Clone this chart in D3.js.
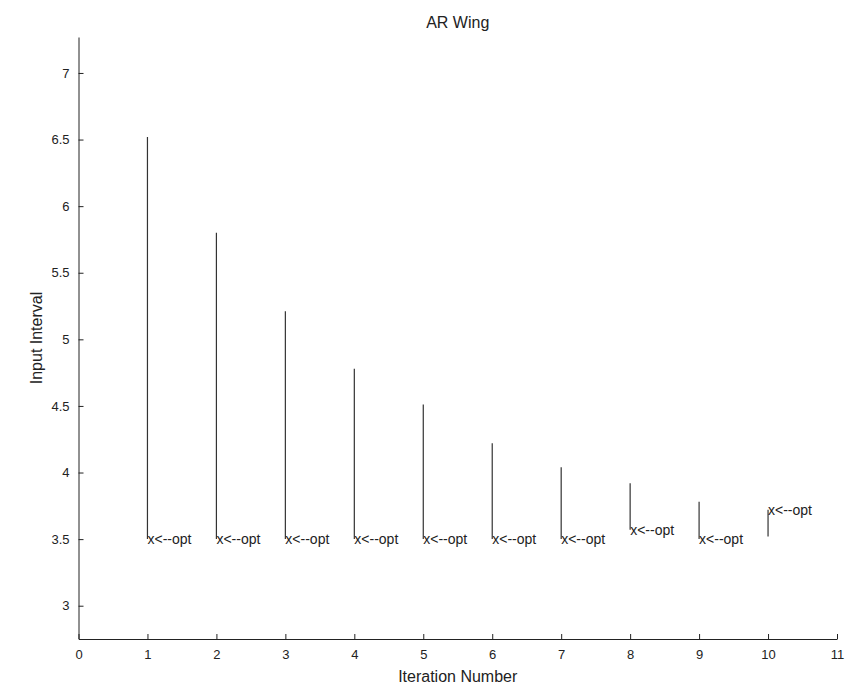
<!DOCTYPE html>
<html>
<head>
<meta charset="utf-8">
<script src="https://cdn.jsdelivr.net/npm/d3@7"></script>
<style>
  html, body { margin: 0; padding: 0; background: #fff; }
  svg { display: block; font-family: "Liberation Sans", Arial, sans-serif; }
</style>
</head>
<body>
<script>
// Input interval per iteration for the AR Wing variable
const iterations = [1, 2, 3, 4, 5, 6, 7, 8, 9, 10];
const upperBound = [6.52, 5.80, 5.21, 4.78, 4.51, 4.22, 4.04, 3.92, 3.78, 3.72];
const lowerBound = [3.50, 3.50, 3.50, 3.50, 3.50, 3.50, 3.50, 3.57, 3.50, 3.52];
const optimum    = [3.50, 3.50, 3.50, 3.50, 3.50, 3.50, 3.50, 3.57, 3.50, 3.72];
const xTicks = [0, 1, 2, 3, 4, 5, 6, 7, 8, 9, 10, 11];
const yTicks = [3, 3.5, 4, 4.5, 5, 5.5, 6, 6.5, 7];
const optLabel = "x<--opt";

const W = 848, H = 698;
const margin = { left: 78.5, right: 11, top: 37, bottom: 59 };

const svg = d3.select("body").append("svg")
  .attr("width", W).attr("height", H);

const x = d3.scaleLinear().domain([0, 11]).range([margin.left, W - margin.right]);
const y = d3.scaleLinear().domain([2.75, 7.27]).range([H - margin.bottom, margin.top]);

const ink = "#222";

// Axes with inward ticks
const xAxis = d3.axisBottom(x).tickValues(xTicks).tickFormat(d3.format("d"))
  .tickSizeInner(-5).tickSizeOuter(0).tickPadding(11);
const yAxis = d3.axisLeft(y).tickValues(yTicks).tickFormat(d => String(d))
  .tickSizeInner(-5).tickSizeOuter(0).tickPadding(9);

const gx = svg.append("g").attr("transform", `translate(0,${y(2.75)})`).call(xAxis);
const gy = svg.append("g").attr("transform", `translate(${x(0)},0)`).call(yAxis);
[gx, gy].forEach(g => {
  g.selectAll("path, line").attr("stroke", ink).attr("stroke-width", 1);
  g.selectAll("text").attr("fill", ink).style("font-size", "13px");
});

// Interval lines
const rows = iterations.map((it, i) => ({ it, lo: lowerBound[i], hi: upperBound[i], opt: optimum[i] }));

svg.append("g").selectAll("line").data(rows).join("line")
  .attr("x1", d => x(d.it)).attr("x2", d => x(d.it))
  .attr("y1", d => y(d.lo)).attr("y2", d => y(d.hi))
  .attr("stroke", "#333").attr("stroke-width", 1.2);

// Optimum labels: text starts at the optimum point
svg.append("g").selectAll("text").data(rows).join("text")
  .attr("x", d => x(d.it)).attr("y", d => y(d.opt))
  .attr("dominant-baseline", "central")
  .attr("fill", ink).style("font-size", "14px")
  .text(optLabel);

// Title and axis labels
svg.append("text").attr("x", (x(0) + x(11)) / 2).attr("y", 22)
  .attr("text-anchor", "middle").attr("dominant-baseline", "central")
  .attr("fill", ink).style("font-size", "16px").text("AR Wing");

svg.append("text").attr("x", (x(0) + x(11)) / 2).attr("y", 676)
  .attr("text-anchor", "middle").attr("dominant-baseline", "central")
  .attr("fill", ink).style("font-size", "16px").text("Iteration Number");

svg.append("text")
  .attr("transform", `translate(36,${(y(2.75) + y(7.27)) / 2}) rotate(-90)`)
  .attr("text-anchor", "middle").attr("dominant-baseline", "central")
  .attr("fill", ink).style("font-size", "16px").text("Input Interval");
</script>
</body>
</html>
